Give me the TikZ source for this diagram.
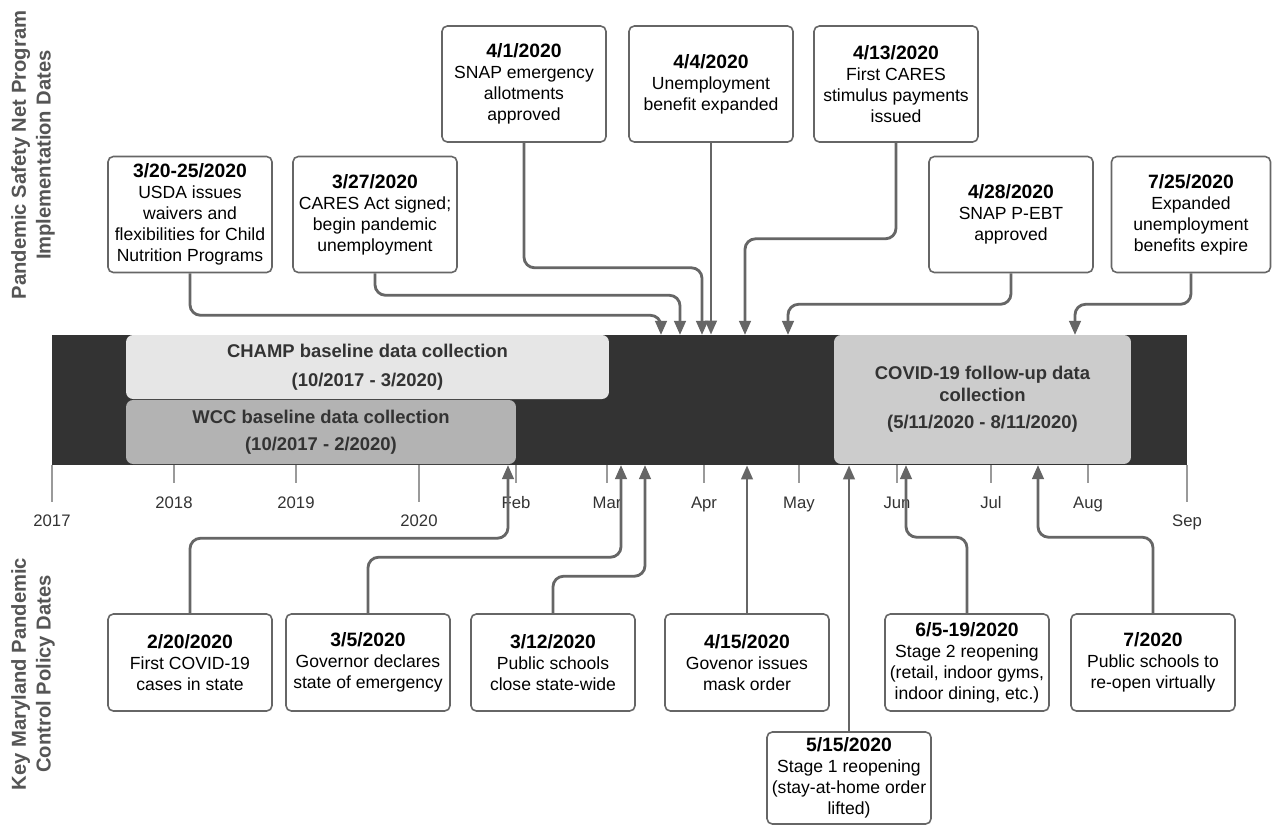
\documentclass[tikz,border=0pt]{standalone}
\usepackage{fontspec}
\setmainfont{Liberation Sans}
\usetikzlibrary{arrows.meta,positioning}

\definecolor{bardark}{HTML}{333333}
\definecolor{linegrey}{HTML}{666666}
\definecolor{tickgrey}{HTML}{9A9A9A}
\definecolor{champgrey}{HTML}{E6E6E6}
\definecolor{wccgrey}{HTML}{B3B3B3}
\definecolor{covidgrey}{HTML}{CCCCCC}
\definecolor{titlegrey}{HTML}{555555}

\newcommand{\evdate}[1]{{\bfseries\fontsize{11}{12}\selectfont #1}}

\tikzset{
  event/.style={draw=linegrey, line width=0.9pt, rounded corners=3pt, fill=white,
    minimum width=3.28cm, align=center, inner sep=1pt,
    font=\fontsize{10}{12}\selectfont},
  topevent/.style={event, minimum height=2.32cm},
  lowevent/.style={event, minimum height=1.94cm},
  period/.style={rounded corners=4pt, inner sep=0pt, align=center, text=bardark,
    font=\bfseries\fontsize{10.5}{12.5}\selectfont},
  flow/.style={draw=linegrey, line width=1.6pt, rounded corners=6pt,
    -{Triangle[length=8pt,width=6.5pt]}},
  sidetitle/.style={rotate=90, align=center, text=titlegrey,
    font=\bfseries\fontsize{11.5}{14}\selectfont},
  yearlabel/.style={text=bardark, text height=1.6ex, text depth=0.3ex,
    font=\fontsize{9.5}{11}\selectfont}
}

\begin{document}
\begin{tikzpicture}[x=0.02cm, y=-0.02cm]
  \fill[white] (0,0) rectangle (1272,826);
  \useasboundingbox (0,0) rectangle (1272,826);

  \node[sidetitle] (safetytitle) at (33,155) {Pandemic Safety Net Program\\Implementation Dates};
  \node[sidetitle] (policytitle) at (33,674) {Key Maryland Pandemic\\Control Policy Dates};

  % timeline
  \node[fill=bardark, minimum width=22.7cm, minimum height=2.6cm, inner sep=0pt] (bar) at (619.5,400) {};
  \node[period, fill=champgrey, minimum width=9.66cm, minimum height=1.28cm] (champ) at (367.5,367)
    {CHAMP baseline data collection\\[4pt](10/2017 - 3/2020)};
  \node[period, fill=wccgrey, minimum width=7.8cm, minimum height=1.28cm] (wcc) at (321,432)
    {WCC baseline data collection\\[3pt](10/2017 - 2/2020)};
  \node[period, fill=covidgrey, minimum width=5.94cm, minimum height=2.58cm] (covid) at (982.5,399.5)
    {COVID-19 follow-up data\\collection\\[3pt](5/11/2020 - 8/11/2020)};

  \foreach \x/\lab/\len/\ly in {52/2017/37/520, 174/2018/18/502, 296/2019/18/502, 419/2020/37/520,
      516/Feb/18/502, 607/Mar/18/502, 704/Apr/18/502, 799/May/18/502, 897/Jun/18/502,
      991/Jul/18/502, 1088/Aug/18/502, 1187/Sep/37/520} {
    \draw[tickgrey, line width=0.6pt] (\x,465) -- ++(0,\len);
    \node[yearlabel] at (\x,\ly) {\lab};
  }

  % safety net programs
  \node[topevent] (usda) at (190,214.5) {\evdate{3/20-25/2020}\\USDA issues\\waivers and\\flexibilities for Child\\Nutrition Programs};
  \node[topevent] (cares) at (375,214.5) {\evdate{3/27/2020}\\CARES Act signed;\\begin pandemic\\unemployment};
  \node[topevent] (snap) at (524,84) {\evdate{4/1/2020}\\SNAP emergency\\allotments\\approved};
  \node[topevent] (unemp) at (711,84) {\evdate{4/4/2020}\\Unemployment\\benefit expanded};
  \node[topevent] (stimulus) at (896,84) {\evdate{4/13/2020}\\First CARES\\stimulus payments\\issued};
  \node[topevent] (pebt) at (1011,214.5) {\evdate{4/28/2020}\\SNAP P-EBT\\approved};
  \node[topevent, minimum width=3.18cm] (expire) at (1191,214.5) {\evdate{7/25/2020}\\Expanded\\unemployment\\benefits expire};

  \coordinate (usdaend) at (661,335);
  \coordinate (caresend) at (680,335);
  \coordinate (snapend) at (702,335);
  \coordinate (stimulusend) at (745,335);
  \coordinate (pebtend) at (788,335);
  \coordinate (expireend) at (1075,335);

  \draw[flow] (usda.south) -- ++(0,42) -| (usdaend);
  \draw[flow] (cares.south) -- ++(0,22) -| (caresend);
  \draw[flow] (snap.south) -- ++(0,125) -| (snapend);
  \draw[flow] (unemp.south) -- (unemp.south |- bar.north);
  \draw[flow] (stimulus.south) -- ++(0,96) -| (stimulusend);
  \draw[flow] (pebt.south) -- ++(0,31) -| (pebtend);
  \draw[flow] (expire.south) -- ++(0,31) -| (expireend);

  % pandemic control policies
  \node[lowevent] (firstcases) at (190,662.5) {\evdate{2/20/2020}\\First COVID-19\\cases in state};
  \node[lowevent] (emergency) at (368,662.5) {\evdate{3/5/2020}\\Governor declares\\state of emergency};
  \node[lowevent] (schools) at (553,662.5) {\evdate{3/12/2020}\\Public schools\\close state-wide};
  \node[lowevent] (mask) at (747,662.5) {\evdate{4/15/2020}\\Govenor issues\\mask order};
  \node[event, minimum height=1.84cm] (stageone) at (849,778) {\evdate{5/15/2020}\\Stage 1 reopening\\(stay-at-home order\\lifted)};
  \node[lowevent] (stagetwo) at (967,662.5) {\evdate{6/5-19/2020}\\Stage 2 reopening\\(retail, indoor gyms,\\indoor dining, etc.)};
  \node[lowevent] (virtual) at (1153,662.5) {\evdate{7/2020}\\Public schools to\\re-open virtually};

  \coordinate (firstcasesend) at (508,465);
  \coordinate (emergencyend) at (621,465);
  \coordinate (schoolsend) at (645,465);
  \coordinate (stagetwoend) at (906,465);
  \coordinate (virtualend) at (1038,465);

  \draw[flow] (firstcases.north) -- ++(0,-75) -| (firstcasesend);
  \draw[flow] (emergency.north) -- ++(0,-56) -| (emergencyend);
  \draw[flow] (schools.north) -- ++(0,-37) -| (schoolsend);
  \draw[flow] (mask.north) -- (mask.north |- bar.south);
  \draw[flow] (stageone.north) -- (stageone.north |- bar.south);
  \draw[flow] (stagetwo.north) -- ++(0,-76) -| (stagetwoend);
  \draw[flow] (virtual.north) -- ++(0,-76) -| (virtualend);
\end{tikzpicture}
\end{document}
